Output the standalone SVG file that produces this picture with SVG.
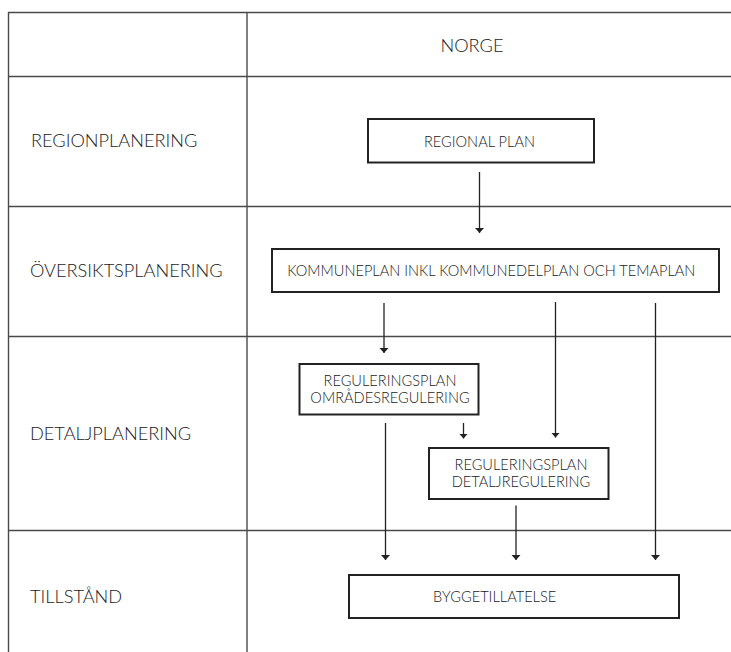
<svg xmlns="http://www.w3.org/2000/svg" width="731" height="652" viewBox="0 0 731 652">
<style>
.grid{stroke:#4a4a4a;stroke-width:1.4;fill:none}
.box{fill:#fff;stroke:#222;stroke-width:2}
.lbl{font-family:Lato,"Liberation Sans",sans-serif;font-size:18.2px;font-weight:300;fill:#1a1a1a}
.t{font-family:Lato,"Liberation Sans",sans-serif;font-size:14.6px;font-weight:300;fill:#1a1a1a;text-anchor:middle}
.arr{stroke:#222;stroke-width:1.3;fill:none;marker-end:url(#ah)}
</style>
<defs>
<marker id="ah" markerUnits="userSpaceOnUse" viewBox="0 -5 5 10" refX="5" refY="0" markerWidth="5" markerHeight="10" orient="auto">
<path d="M0,-4.5 L5,0 L0,4.5 z" fill="#222"/>
</marker>
</defs>
<rect width="731" height="652" fill="#fff"/>
<g id="table">
<line class="grid" x1="8" y1="12.5" x2="731" y2="12.5"/>
<line class="grid" x1="8.5" y1="12" x2="8.5" y2="652"/>
<line class="grid" x1="247" y1="12" x2="247" y2="652"/>
<line class="grid" x1="8" y1="76.5" x2="731" y2="76.5"/>
<line class="grid" x1="8" y1="206.5" x2="731" y2="206.5"/>
<line class="grid" x1="8" y1="336.5" x2="731" y2="336.5"/>
<line class="grid" x1="8" y1="530.5" x2="731" y2="530.5"/>
</g>
<g id="labels">
<text class="lbl" x="472" y="52" text-anchor="middle">NORGE</text>
<text class="lbl" x="31" y="147">REGIONPLANERING</text>
<text class="lbl" x="30" y="277">ÖVERSIKTSPLANERING</text>
<text class="lbl" x="30" y="440">DETALJPLANERING</text>
<text class="lbl" x="30" y="602.5">TILLSTÅND</text>
</g>
<g id="connectors">
<line class="arr" x1="479.5" y1="172" x2="479.5" y2="233"/>
<line class="arr" x1="384" y1="303" x2="384" y2="353"/>
<line class="arr" x1="555.5" y1="302" x2="555.5" y2="437.5"/>
<line class="arr" x1="655.5" y1="303" x2="655.5" y2="560"/>
<line class="arr" x1="463.5" y1="423" x2="463.5" y2="438.5"/>
<line class="arr" x1="385.5" y1="423" x2="385.5" y2="560"/>
<line class="arr" x1="516" y1="505.5" x2="516" y2="560"/>
</g>
<g id="regional-plan">
<rect class="box" x="368" y="119" width="226" height="43.5"/>
<text class="t" x="479.5" y="147">REGIONAL PLAN</text>
</g>
<g id="kommuneplan">
<rect class="box" x="272" y="249" width="447" height="43"/>
<text class="t" x="491.3" y="275.5">KOMMUNEPLAN INKL KOMMUNEDELPLAN OCH TEMAPLAN</text>
</g>
<g id="omradesregulering">
<rect class="box" x="299.5" y="364" width="179" height="50.5"/>
<text class="t" x="390" y="386">REGULERINGSPLAN</text>
<text class="t" x="390" y="403.3">OMRÅDESREGULERING</text>
</g>
<g id="detaljregulering">
<rect class="box" x="429" y="448" width="179.5" height="51"/>
<text class="t" x="521" y="470">REGULERINGSPLAN</text>
<text class="t" x="521" y="487.3">DETALJREGULERING</text>
</g>
<g id="byggetillatelse">
<rect class="box" x="349" y="575" width="330" height="43"/>
<text class="t" x="494.7" y="601.5">BYGGETILLATELSE</text>
</g>
</svg>
